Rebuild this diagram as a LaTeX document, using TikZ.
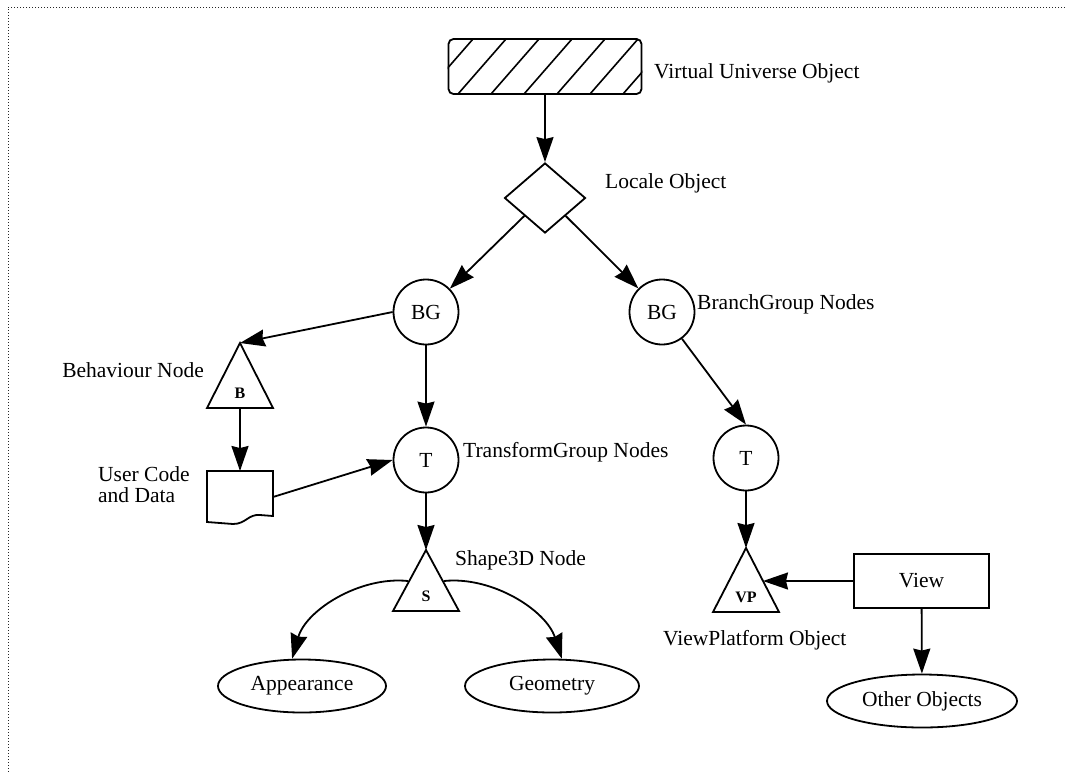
\documentclass[tikz,border=0pt]{standalone}
\usepackage{fontspec}
\setmainfont{Liberation Serif}
\usetikzlibrary{shapes.geometric,arrows.meta}

\begin{document}
\begin{tikzpicture}[x=1pt,y=-1pt,
  every node/.style={font=\fontsize{21.5}{25}\selectfont},
  conn/.style={line width=1.8pt,-{Stealth[length=25pt,width=17pt,inset=2pt]}},
  ring/.style={circle,draw,line width=1.8pt,minimum size=65pt,inner sep=0pt},
  oval/.style={ellipse,draw,line width=1.8pt,minimum height=53pt,inner sep=0pt},
  tri/.style={draw,line width=1.8pt,line join=miter},
  lbl/.style={anchor=west,inner sep=0pt},
  tiny/.style={font=\fontsize{16}{18}\selectfont\bfseries,inner sep=0pt},
  frame/.style={draw=black!85,line width=1pt,dash pattern=on 1pt off 2pt}
]
\useasboundingbox (0,0) rectangle (1065,772);

% dotted page frame (top and left edges)
\draw[frame] (1065,7) -- (8,7) -- (8,772);

% virtual universe: hatched rounded box
\node[draw,rounded corners=5pt,line width=1.8pt,minimum width=193pt,minimum height=55pt,inner sep=0pt] (vu) at (545,66.5) {};
\begin{scope}
  \clip[rounded corners=5pt] (vu.south west) rectangle (vu.north east);
  \foreach \k in {0,...,7}
    \draw[line width=1.6pt] (425+33*\k,94) -- (473+33*\k,39);
\end{scope}
\node[lbl] (vulbl) at (654,73) {Virtual Universe Object};

% locale
\node[diamond,draw,line width=1.8pt,minimum width=81pt,minimum height=70pt,inner sep=0pt] (loc) at (545,198) {};
\node[lbl] (loclbl) at (605,183) {Locale Object};

% branch groups
\node[ring] (bg1) at (426,312) {BG};
\node[ring] (bg2) at (662,312) {BG};
\node[lbl] (bglbl) at (697,304) {BranchGroup Nodes};

% transform groups
\node[ring] (t1) at (426,460) {T};
\node[ring] (t2) at (746,458) {T};
\node[lbl] (tlbl) at (463,452) {TransformGroup Nodes};

% behaviour node
\coordinate (Ba) at (240,343);
\coordinate (Bb) at (240,408);
\draw[tri] (Ba) -- (207,408) -- (273,408) -- cycle;
\node[tiny] (B) at (240,393) {B};
\node[anchor=east,inner sep=0pt] (blbl) at (204,370) {Behaviour Node};

% user code and data (document shape)
\coordinate (docT) at (240,471);
\coordinate (docR) at (273,497);
\draw[line width=1.8pt,line join=miter] (207,471) -- (273,471) -- (273,516)
  -- (260,515) .. controls (248,514) and (246,524) .. (233,524) -- (207,522) -- cycle;
\node[anchor=north west,inner sep=0pt,align=left,font=\fontsize{21.5}{21.5}\selectfont] (doclbl) at (98,466) {User Code\\and Data};

% shape3D node
\coordinate (Sa) at (426,550);
\coordinate (SL) at (408,581);
\coordinate (SR) at (444,581);
\draw[tri] (Sa) -- (393,611) -- (459,611) -- cycle;
\node[tiny] (S) at (426,596) {S};
\node[lbl] (slbl) at (455,560) {Shape3D Node};

% appearance and geometry
\node[oval,minimum width=168pt] (app) at (302,686) {Appearance};
\node[oval,minimum width=174pt] (geo) at (552,686) {Geometry};

% view platform
\coordinate (VPa) at (746,548);
\coordinate (VPr) at (763,581);
\draw[tri] (VPa) -- (713,612) -- (779,612) -- cycle;
\node[tiny] (VP) at (746,597) {VP};
\node[lbl] (vplbl) at (663,640) {ViewPlatform Object};

% view and other objects
\node[draw,line width=1.8pt,minimum width=135pt,minimum height=54pt,inner sep=0pt] (view) at (921.5,581) {View};
\node[oval,minimum width=190pt] (oth) at (922,701) {Other Objects};

% connectors
\draw[conn] (vu.south) -- (loc.north);
\draw[conn] (loc.south west) -- (bg1);
\draw[conn] (loc.south east) -- (bg2);
\draw[conn] (bg1.west) -- (Ba);
\draw[conn] (bg1) -- (t1);
\draw[conn] (Bb) -- (docT);
\draw[conn] (docR) -- (t1.west);
\draw[conn] (t1) -- (Sa);
\draw[conn] (SL) .. controls (360,576) and (306,610) .. (app.110);
\draw[conn] (SR) .. controls (492,576) and (546,610) .. (geo.70);
\draw[conn] (bg2) -- (t2.north);
\draw[conn] (t2) -- (VPa);
\draw[conn] (view.west) -- (VPr);
\draw[conn] (view) -- (oth);
\end{tikzpicture}
\end{document}
